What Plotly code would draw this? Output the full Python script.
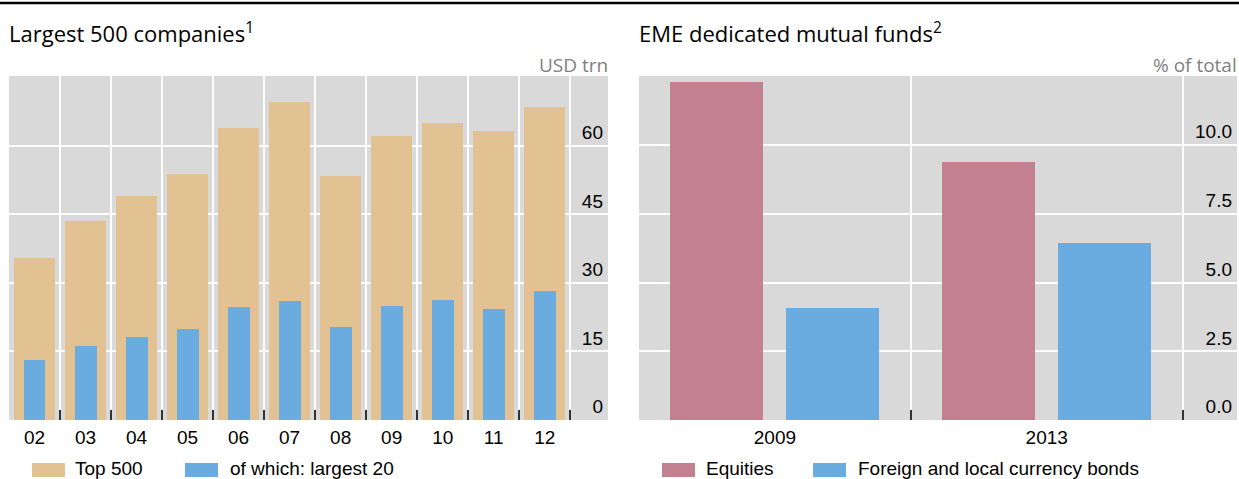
import plotly.graph_objects as go

# ---------------- data ----------------
years = ["02", "03", "04", "05", "06", "07", "08", "09", "10", "11", "12"]
top500 = [35.4, 43.5, 49.0, 53.8, 63.9, 69.6, 53.4, 62.1, 65.0, 63.3, 68.5]
largest20 = [13.1, 16.2, 18.1, 19.9, 24.7, 26.0, 20.3, 24.9, 26.2, 24.3, 28.2]

fund_years = ["2009", "2013"]
equities = [12.29, 9.38]
bonds = [4.07, 6.44]

left_ticks = [0, 15, 30, 45, 60]
right_ticks = [0, 2.5, 5, 7.5, 10]

# ---------------- style ----------------
W, H = 1239, 479
TAN = "#E2C292"
BLUE = "#6AACE0"
PINK = "#C3808F"
BG = "#D9D9D9"
ARIAL = "Liberation Sans, Arial, sans-serif"
TITLEF = "Open Sans, Noto Sans, sans-serif"
TICKSZ = 19


def px(x):
    return x / W


def py(y):
    return 1 - y / H


fig = go.Figure()

xl = list(range(len(years)))
fig.add_trace(go.Bar(x=xl, y=top500, width=0.80, marker_color=TAN, marker_line_width=0,
                     name="Top 500", xaxis="x", yaxis="y", showlegend=False))
fig.add_trace(go.Bar(x=xl, y=largest20, width=0.43, marker_color=BLUE, marker_line_width=0,
                     name="of which: largest 20", xaxis="x", yaxis="y", showlegend=False))

xr = list(range(len(fund_years)))
fig.add_trace(go.Bar(x=xr, y=equities, width=0.342, offset=-0.385, marker_color=PINK,
                     marker_line_width=0, name="Equities", xaxis="x2", yaxis="y2", showlegend=False))
fig.add_trace(go.Bar(x=xr, y=bonds, width=0.342, offset=0.041, marker_color=BLUE,
                     marker_line_width=0, name="Foreign and local currency bonds",
                     xaxis="x2", yaxis="y2", showlegend=False))

ydom = [py(420), py(76)]


def minor_for(n):
    return dict(tickmode="array", tickvals=[i + 0.5 for i in range(n)], showgrid=True,
                gridcolor="white", gridwidth=1.5, ticks="inside", ticklen=10,
                tickcolor="#333333", tickwidth=1.5)


common_x = dict(showgrid=False, zeroline=False, showline=False, ticks="",
                tickfont=dict(family=ARIAL, size=TICKSZ, color="black"),
                tickmode="array", ticklabelstandoff=4)
common_y = dict(side="right", ticklabelposition="inside top", showgrid=True,
                gridcolor="white", gridwidth=1.5, zeroline=False, showline=False,
                ticks="", tickfont=dict(family=ARIAL, size=TICKSZ, color="black"),
                tickmode="array", ticklabelstandoff=2)

fig.update_layout(
    width=W, height=H,
    margin=dict(l=0, r=0, t=0, b=0),
    paper_bgcolor="white", plot_bgcolor=BG,
    barmode="overlay", bargap=0,
    xaxis=dict(domain=[px(9), px(608)], range=[-0.5, 11.24], anchor="y",
               tickvals=xl, ticktext=years, minor=minor_for(len(years)), **common_x),
    yaxis=dict(domain=ydom, range=[0, 75.24], anchor="x",
               tickvals=left_ticks, ticktext=[str(v) for v in left_ticks], **common_y),
    xaxis2=dict(domain=[px(639), px(1237)], range=[-0.5, 1.70], anchor="y2",
                tickvals=xr, ticktext=fund_years, minor=minor_for(len(fund_years)), **common_x),
    yaxis2=dict(domain=ydom, range=[0, 12.51], anchor="x2",
                tickvals=right_ticks, ticktext=[f"{v:.1f}" for v in right_ticks], **common_y),
)

shapes = [
    dict(type="line", xref="paper", yref="paper", x0=0, x1=1, y0=py(3), y1=py(3),
         line=dict(color="black", width=2.5)),
]
annotations = [
    dict(text="Largest 500 companies<sup>1</sup>", x=px(7), y=py(32), xanchor="left",
         yanchor="middle", font=dict(family=TITLEF, size=22, color="black")),
    dict(text="EME dedicated mutual funds<sup>2</sup>", x=px(637), y=py(32), xanchor="left",
         yanchor="middle", font=dict(family=TITLEF, size=22, color="black")),
    dict(text="USD trn", x=px(610), y=py(65), xanchor="right", yanchor="middle",
         font=dict(family=TITLEF, size=19, color="#7F7F7F")),
    dict(text="% of total", x=px(1239), y=py(65), xanchor="right", yanchor="middle",
         font=dict(family=TITLEF, size=19, color="#7F7F7F")),
]

legend_items = [
    (32, 65, 74, "Top 500", TAN),
    (185, 218, 229, "of which: largest 20", BLUE),
    (662, 695, 705, "Equities", PINK),
    (813, 846, 857, "Foreign and local currency bonds", BLUE),
]
for x0, x1, tx, label, col in legend_items:
    shapes.append(dict(type="rect", xref="paper", yref="paper", x0=px(x0), x1=px(x1),
                       y0=py(477), y1=py(463), fillcolor=col, line_width=0))
    annotations.append(dict(text=label, x=px(tx), y=py(468), xanchor="left", yanchor="middle",
                            borderpad=0, font=dict(family=ARIAL, size=TICKSZ, color="black")))

for a in annotations:
    a.update(xref="paper", yref="paper", showarrow=False)

fig.update_layout(shapes=shapes, annotations=annotations)

fig.write_html(
    "out.html",
    config={"displayModeBar": False},
    post_script="document.body.style.margin='0';document.body.style.overflow='hidden';",
)
